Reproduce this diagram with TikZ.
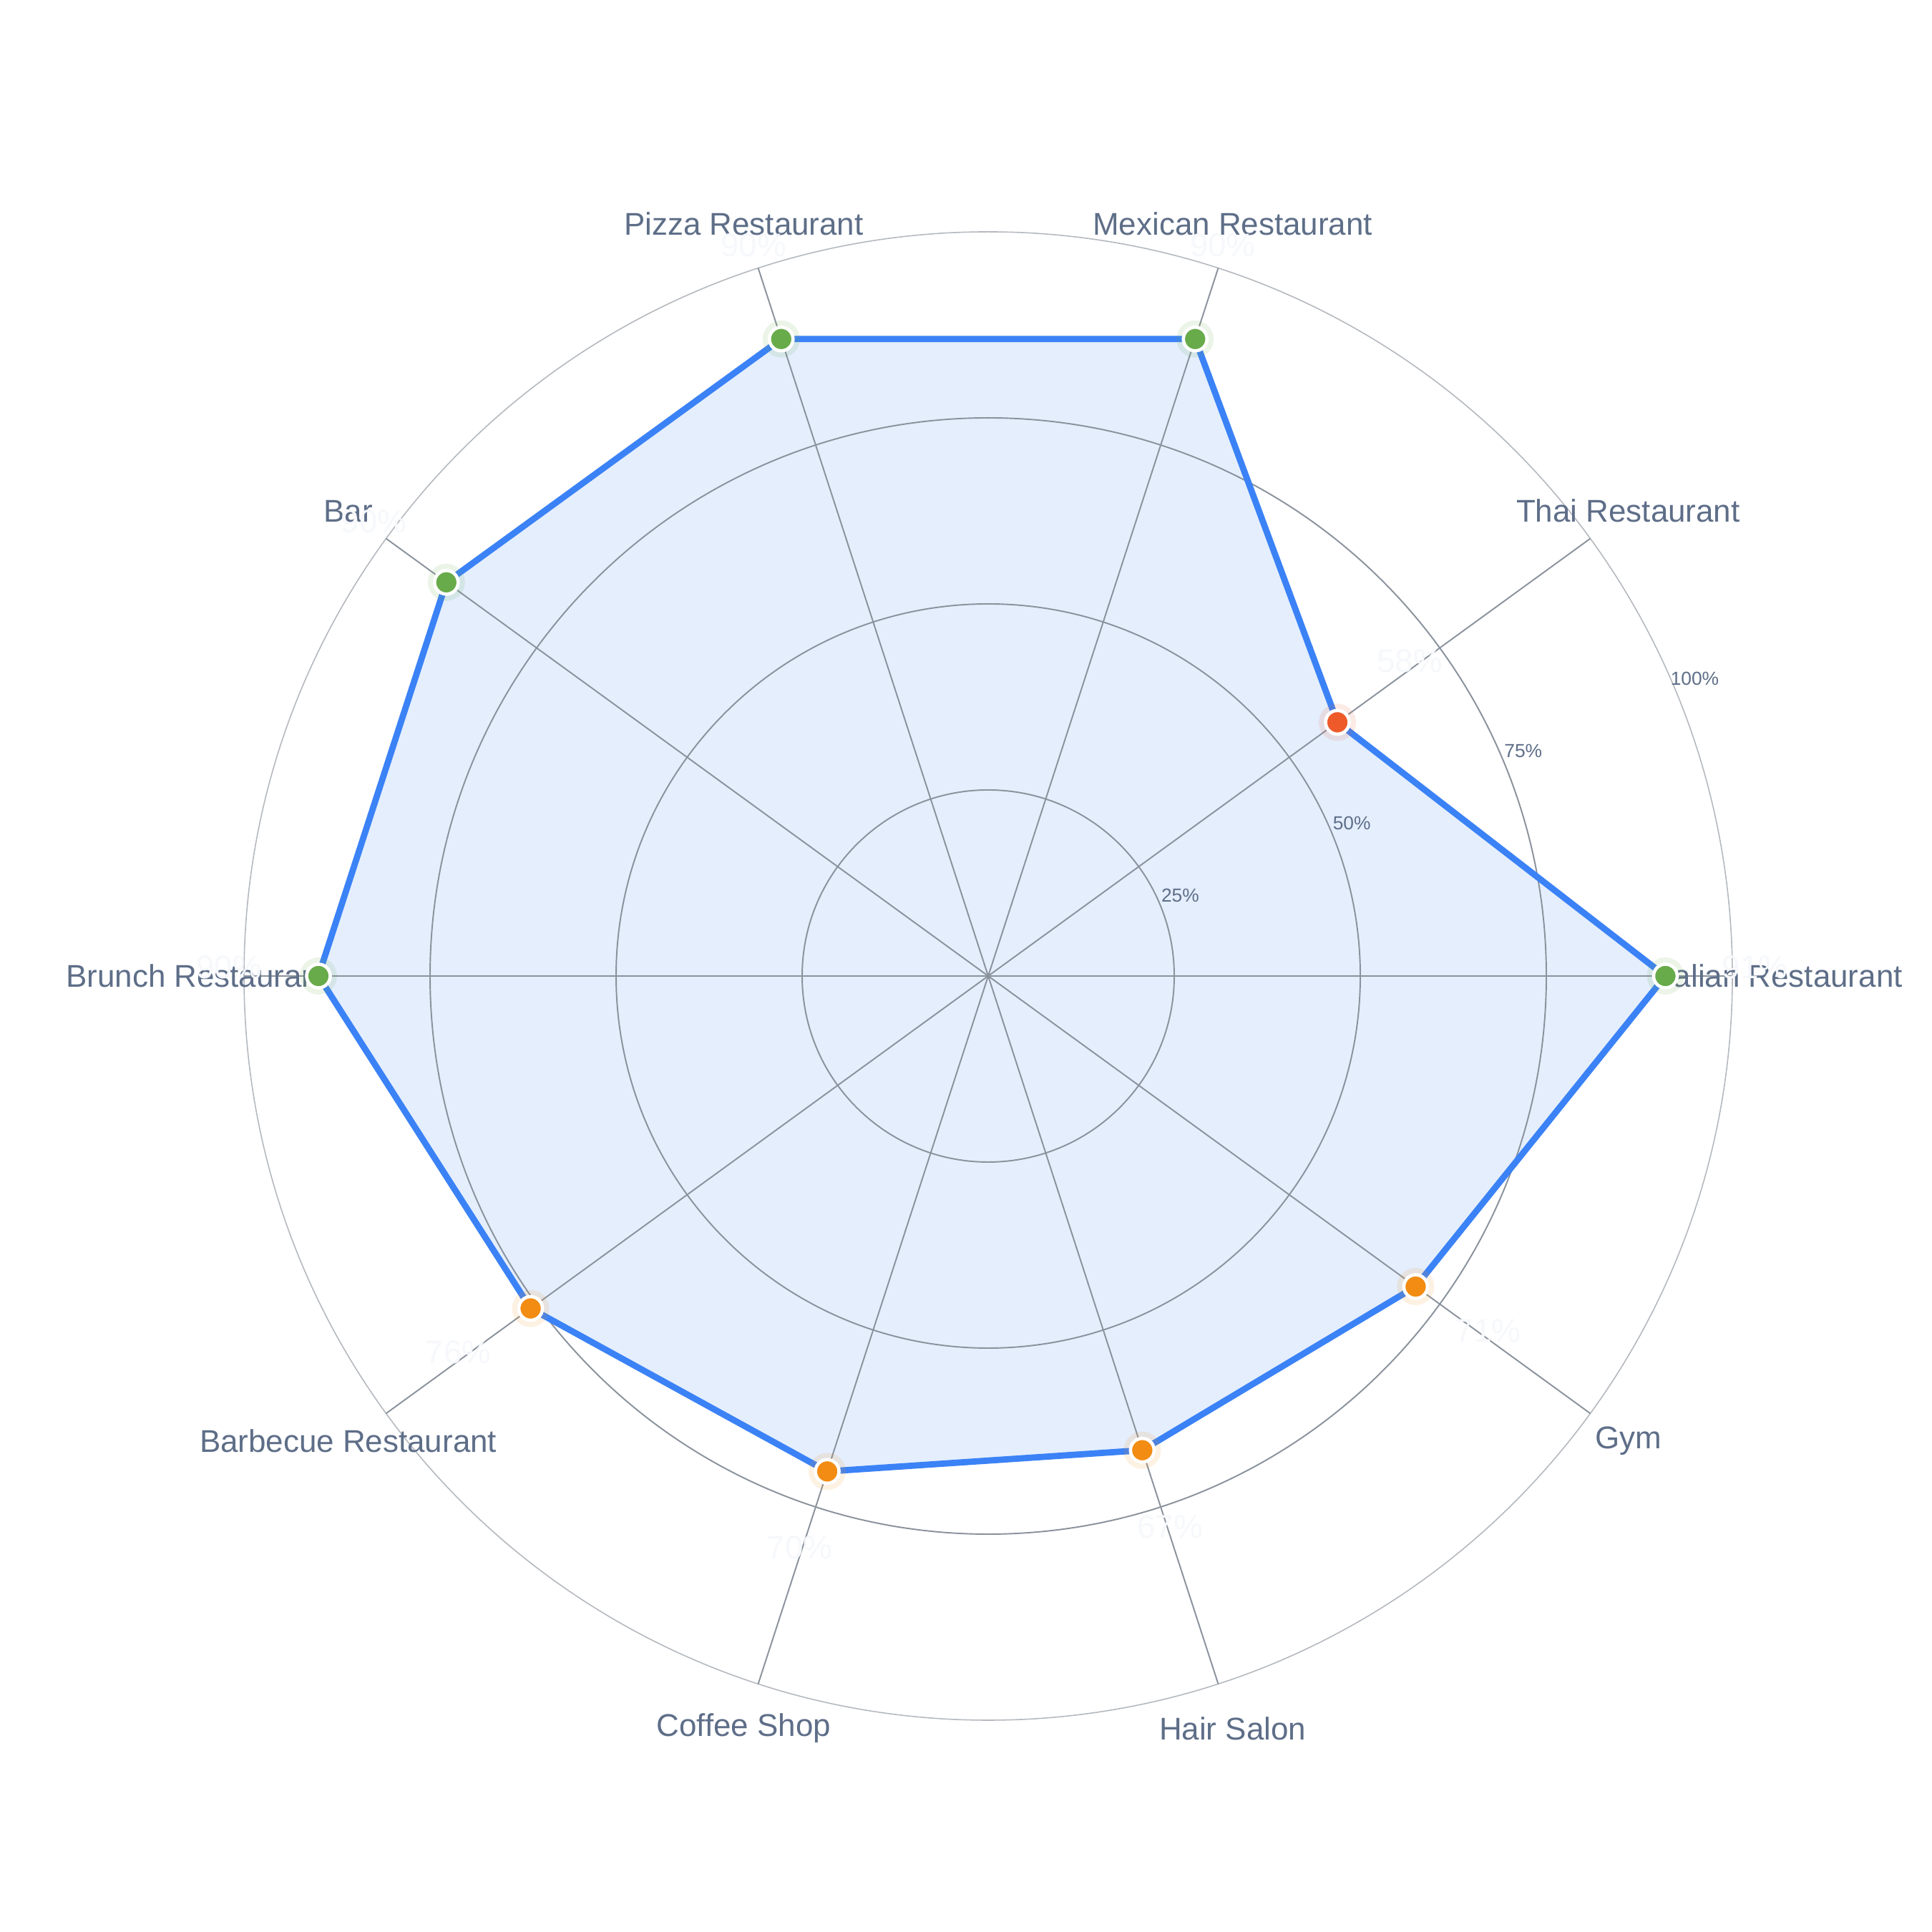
\documentclass[tikz,border=0pt]{standalone}
\usepackage{fontspec}
\setmainfont{Liberation Sans}
\usetikzlibrary{calc}
\definecolor{gridc}{HTML}{8A929C}
\definecolor{outerc}{HTML}{B4B9BF}
\definecolor{txtc}{HTML}{5E6E88}
\definecolor{linec}{HTML}{3B82F6}
\definecolor{fillc}{HTML}{E4EEFD}
\definecolor{gr}{HTML}{68AB4A}
\definecolor{orc}{HTML}{F28C12}
\definecolor{rd}{HTML}{EE5A2A}
\definecolor{vallab}{HTML}{F6F8FB}
\tikzset{
  gridline/.style={draw=gridc,line width=0.55pt},
  catlabel/.style={text=txtc,font=\fontsize{12.5}{14}\selectfont,inner sep=0pt},
  ticklabel/.style={text=txtc,font=\fontsize{7.5}{9}\selectfont,inner sep=0pt},
  vlabel/.style={text=vallab,font=\fontsize{13}{15}\selectfont,inner sep=0pt},
  dot/.style={circle,fill=#1,draw=white,line width=1.3pt,minimum size=0.33cm,inner sep=0pt},
  halo/.style={circle,fill=#1,fill opacity=0.12,minimum size=0.52cm,inner sep=0pt}
}
\begin{document}
\begin{tikzpicture}
\useasboundingbox (0,0) rectangle (27,27);
\fill[white] (0,0) rectangle (27,27);
\def\R{10.4}
\coordinate (c) at (13.81,13.36);
% data polygon
\foreach \i/\a/\v in {1/0/0.91,2/36/0.58,3/72/0.90,4/108/0.90,5/144/0.90,6/180/0.90,7/216/0.76,8/252/0.70,9/288/0.67,10/324/0.71}{
  \coordinate (p\i) at ($(c)+(\a:\v*\R)$);
}
\fill[fillc] (p1)--(p2)--(p3)--(p4)--(p5)--(p6)--(p7)--(p8)--(p9)--(p10)--cycle;
% grid
\foreach \f in {0.25,0.5,0.75}{\draw[gridline] (c) circle ({\f*\R});}
\draw[draw=outerc,line width=0.45pt] (c) circle (\R);
\foreach \a in {0,36,...,324}{\draw[gridline] (c) -- ($(c)+(\a:\R)$);}
\draw[linec,line width=2.5pt,line join=round] (p1)--(p2)--(p3)--(p4)--(p5)--(p6)--(p7)--(p8)--(p9)--(p10)--cycle;
% ticks
\foreach \k/\f/\t in {1/0.25/25\%,2/0.5/50\%,3/0.75/75\%,4/1/100\%}{
  \node[ticklabel] (tick\k) at ($(c)+(22.8:{(\f+0.03)*\R})$) {\t};
}
% category labels
\foreach \i/\a/\n in {1/0/Italian Restaurant,2/36/Thai Restaurant,3/72/Mexican Restaurant,4/108/Pizza Restaurant,5/144/Bar,6/180/Brunch Restaurant,7/216/Barbecue Restaurant,8/252/Coffee Shop,9/288/Hair Salon,10/324/Gym}{
  \node[catlabel] (cat\i) at ($(c)+(\a:1.063*\R)$) {\n};
}
% markers and value labels
\foreach \i/\a/\v/\col in {1/0/91/gr,2/36/58/rd,3/72/90/gr,4/108/90/gr,5/144/90/gr,6/180/90/gr,7/216/76/orc,8/252/70/orc,9/288/67/orc,10/324/71/orc}{
  \node[halo=\col] (h\i) at (p\i) {};
  \node[dot=\col] (d\i) at (p\i) {};
  \node[vlabel] (v\i) at ($(c)+(\a:{\v/100*\R+1.25})+(0,0.12)$) {\v\%};
}
\end{tikzpicture}
\end{document}
